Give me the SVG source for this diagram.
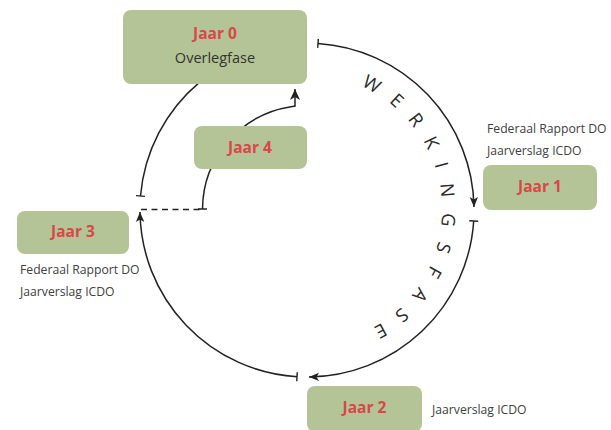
<svg xmlns="http://www.w3.org/2000/svg" width="611" height="430" viewBox="0 0 611 430">
<style>
.box{fill:#b5c497}
.yr{font-family:"Open Sans","Liberation Sans",sans-serif;font-weight:bold;font-size:15.5px;fill:#d8474a;text-anchor:middle}
.lbl{font-family:"Open Sans","Liberation Sans",sans-serif;font-size:12.2px;fill:#404040}
.sub{font-family:"Open Sans","Liberation Sans",sans-serif;font-size:14.5px;fill:#333;text-anchor:middle}
.arc{fill:none;stroke:#222;stroke-width:1.5}
.phase{font-family:"Open Sans","Liberation Sans",sans-serif;font-weight:400;font-size:18.5px;fill:#2a2a2a}
</style>
<defs>
<marker id="arrow" markerUnits="userSpaceOnUse" viewBox="-12 -6 14 12" markerWidth="14" markerHeight="12" refX="0" refY="0" orient="auto">
<path d="M0,0 L-10,-4.2 L-7.5,0 L-10,4.2 Z" fill="#222"/>
</marker>
<marker id="arrowB" markerUnits="userSpaceOnUse" viewBox="-13 -7 15 14" markerWidth="15" markerHeight="14" refX="0" refY="0" orient="auto">
<path d="M0,0 L-11,-5 L-8,0 L-11,5 Z" fill="#222"/>
</marker>
<marker id="tick" markerUnits="userSpaceOnUse" viewBox="-2 -6 4 12" markerWidth="4" markerHeight="12" refX="0" refY="0" orient="auto">
<path d="M0,-4.5 V4.5" stroke="#222" stroke-width="1.4"/>
</marker>
<path id="textcircle" d="M307,75 A135,135 0 0 1 307,345 A135,135 0 0 1 307,75"/>
</defs>

<g id="connectors">
<path class="arc" d="M318,43.4 A167,167 0 0 1 474,207" marker-start="url(#tick)" marker-end="url(#arrow)"/>
<path class="arc" d="M473.7,221 A167,167 0 0 1 309,377" marker-start="url(#tick)" marker-end="url(#arrow)"/>
<path class="arc" d="M297,376.7 A167,167 0 0 1 140,212" marker-start="url(#tick)" marker-end="url(#arrow)"/>
<path class="arc" d="M200,81.8 A167,167 0 0 0 140.5,196" marker-end="url(#tick)"/>
<path class="arc" d="M141,209.5 H202" stroke-dasharray="6,4.5" stroke-width="1.8"/>
<path class="arc" d="M202.5,209 A104.5,104.5 0 0 1 291,106.7 L295,106 L295,89" stroke-width="2.2" marker-start="url(#tick)" marker-end="url(#arrowB)"/>
</g>

<text class="phase" letter-spacing="15"><textPath href="#textcircle" startOffset="55.3">WERKINGSFASE</textPath></text>

<g id="jaar0">
<rect class="box" x="123" y="10" width="184" height="74" rx="8"/>
<text class="yr" x="215" y="39">Jaar 0</text>
<text class="sub" x="215" y="63">Overlegfase</text>
</g>
<g id="jaar4">
<rect class="box" x="194" y="126" width="113" height="43" rx="8"/>
<text class="yr" x="250" y="153">Jaar 4</text>
</g>
<g id="jaar1">
<rect class="box" x="483" y="165" width="114" height="45" rx="8"/>
<text class="yr" x="540" y="192">Jaar 1</text>
<text class="lbl" x="487" y="133">Federaal Rapport DO</text>
<text class="lbl" x="487" y="155">Jaarverslag ICDO</text>
</g>
<g id="jaar2">
<rect class="box" x="307" y="386" width="115" height="46" rx="8"/>
<text class="yr" x="364.5" y="413">Jaar 2</text>
<text class="lbl" x="432" y="414">Jaarverslag ICDO</text>
</g>
<g id="jaar3">
<rect class="box" x="17" y="211" width="112" height="43" rx="8"/>
<text class="yr" x="73" y="237">Jaar 3</text>
<text class="lbl" x="20" y="274">Federaal Rapport DO</text>
<text class="lbl" x="20" y="296">Jaarverslag ICDO</text>
</g>
</svg>
